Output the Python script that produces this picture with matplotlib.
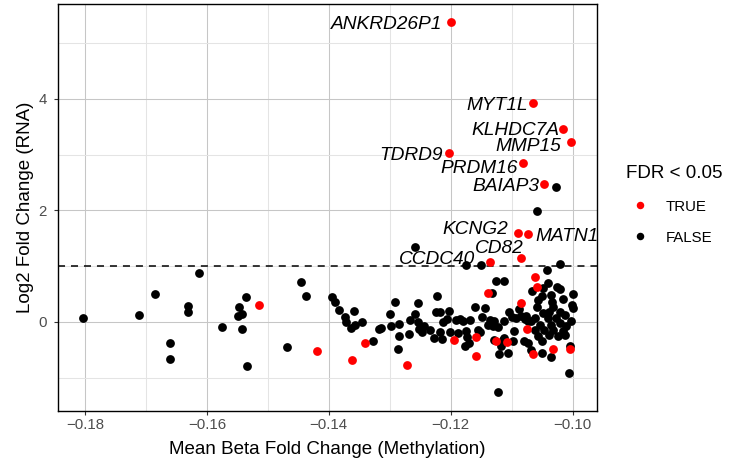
import matplotlib
matplotlib.use("Agg")
import matplotlib.pyplot as plt
from matplotlib.lines import Line2D
from matplotlib.ticker import FixedLocator, FixedFormatter

plt.rcParams["font.family"] = ["Liberation Sans", "DejaVu Sans"]

# Labelled genes passing FDR < 0.05
labeled_genes = ["ANKRD26P1", "MYT1L", "KLHDC7A", "MMP15", "TDRD9", "PRDM16",
                 "BAIAP3", "KCNG2", "MATN1", "CD82", "CCDC40"]
labeled_x = [-0.1200, -0.1064, -0.1015, -0.1003, -0.1202, -0.1082,
             -0.1046, -0.1090, -0.1073, -0.1085, -0.1135]
labeled_y = [5.37, 3.93, 3.46, 3.23, 3.02, 2.84,
             2.48, 1.60, 1.58, 1.15, 1.08]

# Other genes passing FDR < 0.05
fdr_true_x = [-0.1515, -0.1419, -0.1362, -0.1341, -0.1271, -0.1194, -0.1158,
              -0.1158, -0.1139, -0.1125, -0.1108, -0.1085, -0.1075, -0.1064,
              -0.1062, -0.1059, -0.1032, -0.1004]
fdr_true_y = [0.30, -0.53, -0.68, -0.38, -0.77, -0.32, -0.27,
              -0.61, 0.51, -0.35, -0.37, 0.34, -0.13, -0.57,
              0.80, 0.62, -0.48, -0.49]

# Genes not passing FDR < 0.05
fdr_false_x = [
    -0.1804, -0.1711, -0.1685, -0.1613, -0.1631, -0.1631, -0.1661, -0.1661,
    -0.1575, -0.1548, -0.1549, -0.1542, -0.1542, -0.1536, -0.1534, -0.1468,
    -0.1446, -0.1438, -0.1395, -0.1390, -0.1383, -0.1359, -0.1374, -0.1372,
    -0.1363, -0.1357, -0.1346, -0.1327, -0.1318, -0.1314, -0.1299, -0.1291,
    -0.1297, -0.1285, -0.1284, -0.1287, -0.1269, -0.1266, -0.1258, -0.1253,
    -0.1253, -0.1252, -0.1247, -0.1243, -0.1234, -0.1227, -0.1223, -0.1224,
    -0.1218, -0.1218, -0.1214, -0.1213, -0.1206, -0.1202, -0.1201, -0.1191,
    -0.1188, -0.1185, -0.1180, -0.1174, -0.1173, -0.1176, -0.1170, -0.1169,
    -0.1160, -0.1155, -0.1258, -0.1174, -0.1150, -0.1151, -0.1148, -0.1143,
    -0.1132, -0.1126, -0.1112, -0.1136, -0.1128, -0.1139, -0.1131, -0.1123,
    -0.1112, -0.1128, -0.1121, -0.1117, -0.1114, -0.1106, -0.1123, -0.1112,
    -0.1105, -0.1100, -0.1096, -0.1097, -0.1087, -0.1084, -0.1078, -0.1092,
    -0.1068, -0.1073, -0.1068, -0.1066, -0.1049, -0.1041, -0.1042, -0.1021,
    -0.1059, -0.1027, -0.1025, -0.1020, -0.1000, -0.1016, -0.1035, -0.1050,
    -0.1057, -0.1059, -0.1033, -0.1032, -0.1001, -0.1000, -0.1048, -0.1038,
    -0.1021, -0.1013, -0.1076, -0.1062, -0.1041, -0.1027, -0.1002, -0.1073,
    -0.1053, -0.1035, -0.1021, -0.1062, -0.1046, -0.1032, -0.1016, -0.1011,
    -0.1057, -0.1038, -0.1024, -0.1013, -0.1079, -0.1050, -0.1050, -0.1035,
    -0.1005, -0.1004,
]
fdr_false_y = [
    0.07, 0.12, 0.50, 0.87, 0.29, 0.17, -0.38, -0.67,
    -0.10, 0.27, 0.10, 0.14, -0.13, 0.45, -0.79, -0.46,
    0.71, 0.47, 0.44, 0.35, 0.22, 0.19, 0.08, -0.01,
    -0.12, -0.06, 0.00, -0.35, -0.13, -0.11, 0.14, 0.36,
    -0.07, -0.04, -0.25, -0.48, -0.22, 0.03, 0.14, 0.34,
    -0.01, -0.13, -0.19, -0.08, -0.14, -0.29, 0.47, 0.17,
    0.18, -0.18, -0.31, -0.01, 0.05, 0.20, -0.19, 0.04,
    -0.20, 0.05, 0.01, -0.17, -0.27, -0.43, -0.38, 0.04,
    0.26, -0.14, 1.35, 1.01, 1.02, -0.19, 0.08, 0.25,
    0.51, 0.74, 0.74, 0.04, 0.01, -0.05, -0.07, -0.10,
    0.01, -0.32, -0.58, -0.43, -0.32, -0.56, -1.26, -0.29,
    0.18, 0.08, -0.17, -0.35, 0.23, 0.10, 0.05, 0.07,
    0.01, -0.38, -0.50, 0.56, 0.61, 0.69, 0.93, 1.03,
    1.99, 2.42, 0.63, 0.59, 0.50, 0.41, 0.48, 0.47,
    0.39, 0.26, 0.36, 0.27, 0.31, 0.25, 0.16, 0.18,
    0.18, 0.13, 0.10, 0.07, 0.07, 0.07, 0.01, 0.01,
    -0.05, -0.05, -0.02, -0.14, -0.14, -0.14, -0.17, -0.08,
    -0.25, -0.23, -0.26, -0.23, -0.35, -0.35, -0.56, -0.64,
    -0.92, -0.44,
]

rna_threshold = 1.0

x_ticks = [-0.18, -0.16, -0.14, -0.12, -0.10]
x_tick_labels = ["\u22120.18", "\u22120.16", "\u22120.14", "\u22120.12", "\u22120.10"]
x_minor = [-0.17, -0.15, -0.13, -0.11]
y_ticks = [0, 2, 4]
y_tick_labels = ["0", "2", "4"]
y_minor = [-1, 1, 3, 5]

# label placement relative to each point, in points: (dx, dy of the cap-height centre, ha)
label_offsets = {
    "ANKRD26P1": (-5.8, 0.0, "right"),
    "MYT1L": (-4.3, 0.0, "right"),
    "KLHDC7A": (-3.0, 0.6, "right"),
    "MMP15": (-6.9, -2.0, "right"),
    "TDRD9": (-4.6, 0.0, "right"),
    "PRDM16": (-3.6, -1.9, "right"),
    "BAIAP3": (-3.6, -0.4, "right"),
    "KCNG2": (-6.5, 3.6, "right"),
    "MATN1": (5.3, -0.4, "left"),
    "CD82": (2.2, 8.1, "right"),
    "CCDC40": (-10.7, 3.4, "right"),
}
label_size = 13.8

W, H = 731, 466
fig = plt.figure(figsize=(W / 100, H / 100), dpi=100)
ax = fig.add_axes([58 / W, (H - 410.5) / H, (597 - 58) / W, (410.5 - 4) / H])

ax.axhline(rna_threshold, color="black", lw=1.1, ls=(0, (4.6, 3.9)), zorder=2)

ax.scatter(fdr_false_x, fdr_false_y, s=40, color="black", lw=0, zorder=3)
ax.scatter(fdr_true_x + labeled_x, fdr_true_y + labeled_y, s=40,
           color="#ff0000", lw=0, zorder=4)

for name, gx, gy in zip(labeled_genes, labeled_x, labeled_y):
    dx, dy, ha = label_offsets[name]
    ax.annotate(name, (gx, gy), xytext=(dx, dy - 0.358 * label_size),
                textcoords="offset points", ha=ha, va="baseline",
                fontsize=label_size, fontstyle="italic", color="black", zorder=5)

ax.margins(x=0.05, y=0.05)

ax.xaxis.set_major_locator(FixedLocator(x_ticks))
ax.xaxis.set_major_formatter(FixedFormatter(x_tick_labels))
ax.xaxis.set_minor_locator(FixedLocator(x_minor))
ax.yaxis.set_major_locator(FixedLocator(y_ticks))
ax.yaxis.set_major_formatter(FixedFormatter(y_tick_labels))
ax.yaxis.set_minor_locator(FixedLocator(y_minor))

ax.set_axisbelow(True)
ax.grid(which="major", color="#c6c6c6", lw=0.75)
ax.grid(which="minor", color="#e4e4e4", lw=0.75)

for sp in ax.spines.values():
    sp.set_color("black")
    sp.set_linewidth(1.0)

ax.tick_params(which="major", direction="out", length=3.2, width=0.8,
               color="#333333", labelsize=10.8, labelcolor="#4d4d4d")
ax.tick_params(axis="x", which="major", pad=2.5)
ax.tick_params(axis="y", which="major", pad=5.0)
ax.tick_params(which="minor", length=0)

ax.set_xlabel("Mean Beta Fold Change (Methylation)", fontsize=13.5, labelpad=6.2)
ax.set_ylabel("Log2 Fold Change (RNA)", fontsize=13.5)
ax.yaxis.set_label_coords(-0.045, 0.5)

handles = [
    Line2D([], [], marker="o", ls="none", color="#ff0000", markersize=5.4, mew=0),
    Line2D([], [], marker="o", ls="none", color="black", markersize=5.4, mew=0),
]
fig.legend(handles, ["TRUE", "FALSE"], title="FDR < 0.05", loc="upper left",
           bbox_to_anchor=(616 / W, 1 - 155 / H), frameon=False, fontsize=10.8,
           title_fontsize=13.5, alignment="left", handlelength=1.8,
           handletextpad=0.8, labelspacing=1.14, borderpad=0.2)

fig.savefig("out.png", dpi=100)
